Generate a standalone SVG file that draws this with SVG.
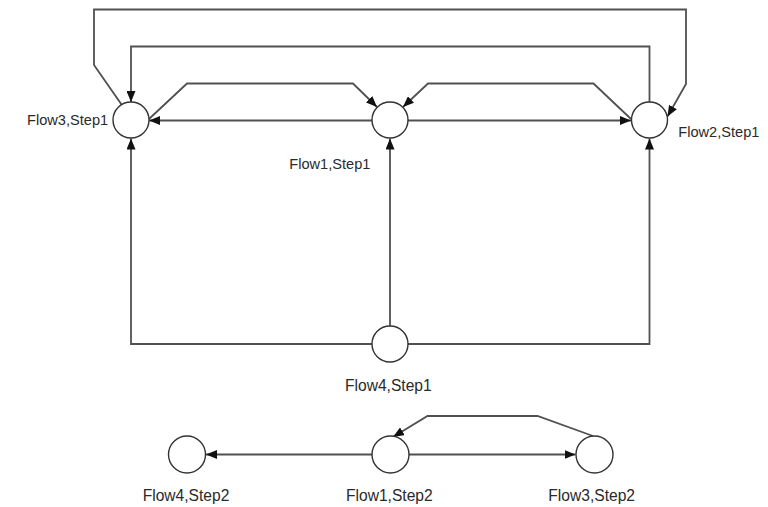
<svg xmlns="http://www.w3.org/2000/svg" width="768" height="507" viewBox="0 0 768 507">
  <defs>
    <style>
      .edge { fill: none; stroke: #505050; stroke-width: 1.8; marker-end: url(#arrow); }
      .node circle { fill: #ffffff; stroke: #333333; stroke-width: 1.4; }
      .node text { font-family: "Liberation Sans", Arial, sans-serif; fill: #2a2a2a; }
      .top text { font-size: 14.6px; }
      .low text { font-size: 15.6px; }
    </style>
    <marker id="arrow" markerUnits="userSpaceOnUse" markerWidth="11" markerHeight="9" refX="11" refY="4.5" orient="auto">
      <path d="M0,0 L11,4.5 L0,9 z" fill="#111111"/>
    </marker>
  </defs>
  <rect width="768" height="507" fill="#ffffff"/>

  <g id="connectors">
    <!-- Flow3,Step1 -> Flow2,Step1 (outer loop) -->
    <path class="edge" d="M121.5,104.5 L94,65 L94,9.5 L686,9.5 L686,84 L667.5,116.5"/>
    <!-- Flow2,Step1 -> Flow3,Step1 (inner loop) -->
    <path class="edge" d="M649.5,102 L649.5,46.5 L131,46.5 L131,102"/>
    <!-- Flow3,Step1 -> Flow1,Step1 -->
    <path class="edge" d="M149,119 L187,83.5 L353,83.5 L377,107"/>
    <!-- Flow1,Step1 -> Flow3,Step1 -->
    <path class="edge" d="M372,120.5 L149,120.5"/>
    <!-- Flow1,Step1 -> Flow2,Step1 -->
    <path class="edge" d="M408,120.5 L631,120.5"/>
    <!-- Flow2,Step1 -> Flow1,Step1 -->
    <path class="edge" d="M631,119 L593.5,83.5 L428,83.5 L403,107"/>
    <!-- Flow4,Step1 -> Flow1,Step1 -->
    <path class="edge" d="M390,326 L390,138.5"/>
    <!-- Flow4,Step1 -> Flow3,Step1 -->
    <path class="edge" d="M372,344 L131,344 L131,138.5"/>
    <!-- Flow4,Step1 -> Flow2,Step1 -->
    <path class="edge" d="M408,344 L649.5,344 L649.5,138.5"/>
    <!-- Flow1,Step2 -> Flow4,Step2 -->
    <path class="edge" d="M372,454.5 L206,454.5"/>
    <!-- Flow1,Step2 -> Flow3,Step2 -->
    <path class="edge" d="M409,454.5 L575.5,454.5"/>
    <!-- Flow3,Step2 -> Flow1,Step2 -->
    <path class="edge" d="M593,436 L537.5,416 L427.5,416 L393,437"/>
  </g>

  <g id="flow3-step1" class="node top">
    <circle cx="131" cy="120" r="18"/>
    <text x="27" y="124.5">Flow3,Step1</text>
  </g>
  <g id="flow1-step1" class="node top">
    <circle cx="390" cy="120" r="18"/>
    <text x="289.3" y="168.5">Flow1,Step1</text>
  </g>
  <g id="flow2-step1" class="node top">
    <circle cx="649.5" cy="120" r="18"/>
    <text x="678.3" y="136.5">Flow2,Step1</text>
  </g>
  <g id="flow4-step1" class="node low">
    <circle cx="390" cy="344" r="18"/>
    <text x="345" y="391">Flow4,Step1</text>
  </g>
  <g id="flow4-step2" class="node low">
    <circle cx="187" cy="454.5" r="18.5"/>
    <text x="142.7" y="500.5">Flow4,Step2</text>
  </g>
  <g id="flow1-step2" class="node low">
    <circle cx="390.5" cy="454.5" r="18.5"/>
    <text x="346" y="500.5">Flow1,Step2</text>
  </g>
  <g id="flow3-step2" class="node low">
    <circle cx="594.5" cy="454.5" r="18.5"/>
    <text x="548.3" y="500.5">Flow3,Step2</text>
  </g>
</svg>
